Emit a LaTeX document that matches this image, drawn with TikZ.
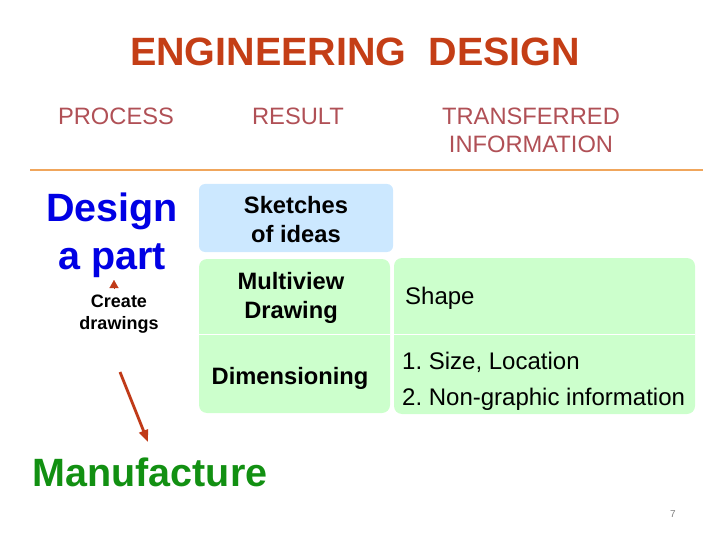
\documentclass[tikz,border=0pt]{standalone}
\usepackage{fontspec}
\setmainfont{Liberation Sans}
\usepackage{tikz}
\usetikzlibrary{arrows.meta,positioning}
\definecolor{titlered}{RGB}{196,62,22}
\definecolor{headred}{RGB}{176,80,86}
\definecolor{partblue}{RGB}{0,0,228}
\definecolor{makegreen}{RGB}{18,144,18}
\definecolor{ruleorange}{RGB}{240,166,92}
\definecolor{boxblue}{RGB}{204,232,255}
\definecolor{boxgreen}{RGB}{204,255,204}
\definecolor{arrowred}{RGB}{192,58,24}
\frenchspacing

\begin{document}
\begin{tikzpicture}[x=1pt, y=-1pt,
    head/.style={text=headred, font=\fontsize{23.7}{28}\selectfont, align=center, inner sep=0pt},
    cell/.style={font=\bfseries\fontsize{23.7}{29}\selectfont, align=center, inner sep=0pt},
    info/.style={font=\fontsize{24}{36}\selectfont, align=left, anchor=west, inner sep=0pt},
    flow/.style={draw=arrowred, line width=2.8pt, -{Triangle[length=12pt, width=9pt]}}]
    \useasboundingbox (0,0) rectangle (720,540);
    \node[text=titlered, font=\bfseries\fontsize{39.5}{44}\selectfont, inner sep=0pt] (title) at (355,52) {ENGINEERING\ \ DESIGN};
    \node[head] (process) at (116,116) {PROCESS};
    \node[head] (result) at (298,116) {RESULT};
    \node[head] (transfer) at (531,130) {TRANSFERRED\\INFORMATION};
    \draw[ruleorange, line width=2.8pt] (30,170) -- (703,170);

    \fill[boxblue, rounded corners=6pt] (199,184) rectangle (393,252);
    \fill[boxgreen, rounded corners=8pt] (199,259) rectangle (390,413);
    \fill[boxgreen, rounded corners=8pt] (394,258) rectangle (695,414);
    \draw[white, line width=1pt] (199,334) -- (390,334);
    \draw[white, line width=1pt] (394,334) -- (695,334);

    \node[cell] (sketch) at (296,220) {Sketches\\of ideas};
    \node[cell] (multi) at (291,298) {Multiview\\Drawing};
    \node[cell] (dims) at (290,378) {Dimensioning};
    \node[info] (shape) at (405,298) {Shape};
    \node[info] (size) at (402,381) {1. Size, Location\\2. Non-graphic information};

    \node[text=partblue, font=\bfseries\fontsize{39.5}{48}\selectfont, align=center, inner sep=0pt] (part) at (112,235) {Design\\a part};
    \node[font=\bfseries\fontsize{18}{22}\selectfont, align=center, inner sep=0pt] (create) at (119,314) {Create\\drawings};
    \node[text=makegreen, font=\bfseries\fontsize{39.5}{44}\selectfont, inner sep=0pt] (make) at (150,472) {Manufacture};
    \node[text=gray, font=\fontsize{10}{12}\selectfont, inner sep=0pt] (page) at (673,514) {7};

    \coordinate (tipbase) at (114,289);
    \coordinate (tiptop) at (114,280);
    \draw[arrowred, line width=0.1pt, -{Triangle[length=8pt, width=9pt]}] (tipbase) -- (tiptop);
    \coordinate (flowstart) at (120,372);
    \coordinate (flowend) at (148,442);
    \draw[flow] (flowstart) -- (flowend);
\end{tikzpicture}
\end{document}
